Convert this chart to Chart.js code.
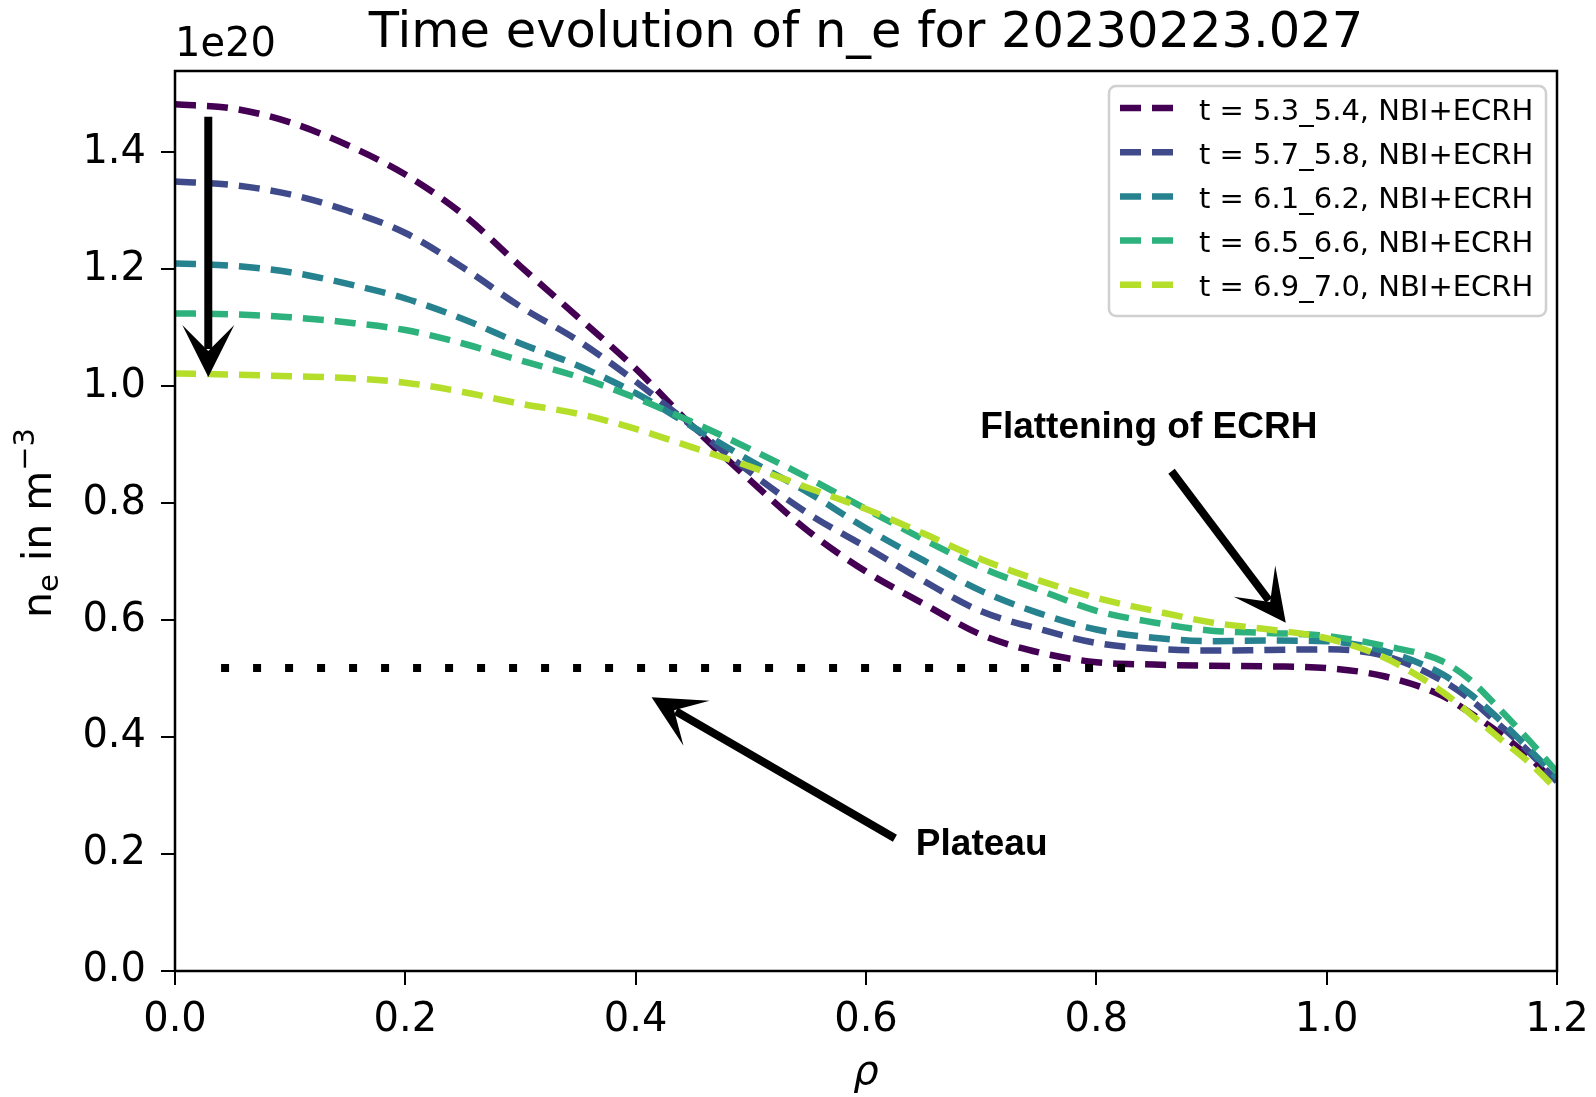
<!DOCTYPE html>
<html>
<head>
<meta charset="utf-8">
<script src="https://cdn.jsdelivr.net/npm/chart.js@4.4.1/dist/chart.umd.min.js"></script>
<style>
  html, body { margin: 0; padding: 0; background: #ffffff; }
  #wrap { width: 1596px; height: 1097px; position: relative; }
  canvas { display: block; }
</style>
</head>
<body>
<div id="wrap"><canvas id="c" width="1596" height="1097" style="width:1596px;height:1097px"></canvas></div>
<script>
// ---------------- data (n_e in units of 1e20 m^-3) ----------------
const rho = [0, 0.05, 0.1, 0.15, 0.2, 0.25, 0.3, 0.35, 0.4, 0.45, 0.5, 0.55, 0.6, 0.65, 0.7, 0.75, 0.8, 0.85, 0.9, 0.95, 1.0, 1.05, 1.1, 1.125, 1.15, 1.175, 1.2];

const ne_t53 = [1.482, 1.475, 1.451, 1.412, 1.362, 1.294, 1.205, 1.118, 1.030, 0.930, 0.838, 0.752, 0.683, 0.628, 0.575, 0.545, 0.528, 0.524, 0.522, 0.521, 0.518, 0.504, 0.471, 0.441, 0.407, 0.367, 0.319];
const ne_t57 = [1.350, 1.344, 1.328, 1.300, 1.262, 1.203, 1.136, 1.078, 1.008, 0.930, 0.852, 0.782, 0.725, 0.667, 0.615, 0.585, 0.561, 0.551, 0.548, 0.549, 0.550, 0.539, 0.497, 0.464, 0.421, 0.376, 0.324];
const ne_t61 = [1.210, 1.206, 1.195, 1.175, 1.150, 1.115, 1.073, 1.035, 0.988, 0.930, 0.872, 0.818, 0.757, 0.702, 0.650, 0.612, 0.584, 0.570, 0.564, 0.565, 0.564, 0.547, 0.508, 0.473, 0.430, 0.381, 0.330];
const ne_t65 = [1.1245, 1.123, 1.118, 1.109, 1.096, 1.073, 1.044, 1.016, 0.980, 0.938, 0.892, 0.843, 0.790, 0.738, 0.690, 0.652, 0.616, 0.596, 0.582, 0.578, 0.573, 0.556, 0.530, 0.497, 0.448, 0.396, 0.340];
const ne_t69 = [1.0216, 1.020, 1.017, 1.014, 1.006, 0.990, 0.970, 0.953, 0.927, 0.895, 0.862, 0.826, 0.790, 0.748, 0.704, 0.668, 0.638, 0.616, 0.596, 0.584, 0.569, 0.536, 0.478, 0.439, 0.398, 0.358, 0.310];

const seriesValues = [ne_t53, ne_t57, ne_t61, ne_t65, ne_t69];
const seriesLabels = ["t = 5.3_5.4, NBI+ECRH", "t = 5.7_5.8, NBI+ECRH", "t = 6.1_6.2, NBI+ECRH", "t = 6.5_6.6, NBI+ECRH", "t = 6.9_7.0, NBI+ECRH"];
const seriesColors = ["#440154", "#3e4a89", "#26828e", "#2db27d", "#b5de2b"];

// plateau reference line
const plateauLevel = 0.518;
const plateauRho = [0.04, 0.833];

// axis settings
const xMin = 0, xMax = 1.2, xStep = 0.2;
const yMin = 0, yMax = 1.539, yStep = 0.2;

// annotations (data coordinates)
const arrows = [
  { from: [0.0289, 1.4606], to: [0.0289, 1.0158] },
  { from: [0.8653, 0.8546], to: [0.9645, 0.5956] },
  { from: [0.6251, 0.2269], to: [0.4138, 0.4682] }
];
const notes = [
  { text: "Flattening of ECRH", at: [0.8456, 0.911], align: "center" },
  { text: "Plateau", at: [0.6433, 0.199], align: "left" }
];

const titleText = "Time evolution of n_e for 20230223.027";
const offsetText = "1e20";

// ---------------- chart ----------------
Chart.defaults.color = '#000';
const yTickFont = { family: 'DejaVu Sans', size: 40 };
const xTickFont = { family: 'DejaVu Sans', size: 40, lineHeight: 1.8 };

const datasets = seriesValues.map((vals, i) => ({
  label: seriesLabels[i],
  data: rho.map((x, j) => ({ x: x, y: vals[j] })),
  borderColor: seriesColors[i],
  backgroundColor: seriesColors[i],
  borderWidth: 6.5,
  borderDash: [21, 11],
  borderCapStyle: 'butt',
  pointRadius: 0,
  fill: false,
  cubicInterpolationMode: 'monotone',
  order: 5 - i
}));
datasets.push({
  label: '_plateau',
  data: plateauRho.map(x => ({ x: x, y: plateauLevel })),
  borderColor: '#000',
  borderWidth: 8,
  borderDash: [8, 24],
  borderCapStyle: 'butt',
  pointRadius: 0,
  fill: false,
  order: 0
});

function drawArrow(ctx, x1, y1, x2, y2) {
  const dx = x2 - x1, dy = y2 - y1;
  const len = Math.hypot(dx, dy);
  const ux = dx / len, uy = dy / len;
  const nx = -uy, ny = ux;
  const L = 52, W = 26, notch = 26, shaft = 8;
  ctx.save();
  ctx.strokeStyle = '#000';
  ctx.fillStyle = '#000';
  ctx.lineWidth = shaft;
  ctx.lineCap = 'butt';
  ctx.setLineDash([]);
  ctx.beginPath();
  ctx.moveTo(x1, y1);
  ctx.lineTo(x2 - ux * (notch + 2), y2 - uy * (notch + 2));
  ctx.stroke();
  ctx.beginPath();
  ctx.moveTo(x2, y2);
  ctx.lineTo(x2 - ux * L + nx * W, y2 - uy * L + ny * W);
  ctx.lineTo(x2 - ux * notch, y2 - uy * notch);
  ctx.lineTo(x2 - ux * L - nx * W, y2 - uy * L - ny * W);
  ctx.closePath();
  ctx.fill();
  ctx.restore();
}

const decor = {
  id: 'decor',
  afterDatasetsDraw(chart) {
    const ctx = chart.ctx;
    const a = chart.chartArea;
    const xs = chart.scales.x, ys = chart.scales.y;

    // frame (all four spines)
    ctx.save();
    ctx.strokeStyle = '#000';
    ctx.lineWidth = 2.5;
    ctx.setLineDash([]);
    ctx.strokeRect(a.left, a.top, a.right - a.left, a.bottom - a.top);
    ctx.restore();

    // arrows
    arrows.forEach(ar => {
      drawArrow(ctx,
        xs.getPixelForValue(ar.from[0]), ys.getPixelForValue(ar.from[1]),
        xs.getPixelForValue(ar.to[0]), ys.getPixelForValue(ar.to[1]));
    });

    // annotation texts
    ctx.save();
    ctx.fillStyle = '#000';
    ctx.font = 'bold 37px "Liberation Sans", Arial, sans-serif';
    ctx.textBaseline = 'alphabetic';
    notes.forEach(n => {
      ctx.textAlign = n.align;
      ctx.fillText(n.text, xs.getPixelForValue(n.at[0]), ys.getPixelForValue(n.at[1]));
    });
    ctx.restore();

    // legend
    const bw = 437, bh = 230;
    const bx = a.right - 11 - bw, by = a.top + 15;
    ctx.save();
    ctx.beginPath();
    if (ctx.roundRect) ctx.roundRect(bx, by, bw, bh, 7); else ctx.rect(bx, by, bw, bh);
    ctx.fillStyle = 'rgba(255,255,255,0.8)';
    ctx.fill();
    ctx.strokeStyle = '#d0d0d0';
    ctx.lineWidth = 2.5;
    ctx.stroke();
    const rowH = 44.2;
    ctx.font = '29px "DejaVu Sans"';
    ctx.textAlign = 'left';
    ctx.textBaseline = 'alphabetic';
    seriesLabels.forEach((lab, i) => {
      const cy = by + 22 + i * rowH;
      ctx.strokeStyle = seriesColors[i];
      ctx.lineWidth = 6.5;
      ctx.lineCap = 'butt';
      ctx.setLineDash([21, 11]);
      ctx.beginPath();
      ctx.moveTo(bx + 11, cy);
      ctx.lineTo(bx + 65, cy);
      ctx.stroke();
      ctx.setLineDash([]);
      ctx.fillStyle = '#000';
      ctx.fillText(lab, bx + 90, cy + 11.5);
    });
    ctx.restore();
  },
  afterDraw(chart) {
    const ctx = chart.ctx;
    const a = chart.chartArea;
    ctx.save();
    ctx.fillStyle = '#000';
    ctx.textBaseline = 'alphabetic';

    // title
    ctx.font = '49.5px "DejaVu Sans"';
    ctx.textAlign = 'center';
    ctx.fillText(titleText, (a.left + a.right) / 2, 47);

    // offset text
    ctx.font = '40px "DejaVu Sans"';
    ctx.textAlign = 'left';
    ctx.fillText(offsetText, a.left, 56);

    // x label
    ctx.font = 'italic 40px "DejaVu Sans"';
    ctx.textAlign = 'center';
    ctx.fillText('\u03C1', (a.left + a.right) / 2, 1084);

    // y label: n_e in m^-3 (rotated)
    const parts = [
      { t: 'n', size: 41, shift: 0 },
      { t: 'e', size: 29, shift: 7 },
      { t: ' in m', size: 41, shift: 0 },
      { t: '\u22123', size: 29, shift: -17 }
    ];
    let total = 0;
    parts.forEach(p => { ctx.font = p.size + 'px "DejaVu Sans"'; p.w = ctx.measureText(p.t).width; total += p.w; });
    ctx.translate(51, (a.top + a.bottom) / 2 + 2);
    ctx.rotate(-Math.PI / 2);
    ctx.textAlign = 'left';
    let cx = -total / 2;
    parts.forEach(p => {
      ctx.font = p.size + 'px "DejaVu Sans"';
      ctx.fillText(p.t, cx, p.shift);
      cx += p.w;
    });
    ctx.restore();
  }
};

new Chart(document.getElementById('c').getContext('2d'), {
  type: 'line',
  data: { datasets: datasets },
  options: {
    responsive: false,
    animation: false,
    devicePixelRatio: 1,
    layout: { padding: { top: 71, right: 39, left: 0, bottom: 0 } },
    plugins: {
      legend: { display: false },
      title: { display: false },
      tooltip: { enabled: false }
    },
    elements: { point: { radius: 0 } },
    scales: {
      x: {
        type: 'linear', min: xMin, max: xMax,
        ticks: { stepSize: xStep, includeBounds: false, autoSkip: false, maxRotation: 0,
                 font: xTickFont, color: '#000', padding: 0,
                 callback: v => Number(v).toFixed(1) },
        grid: { drawOnChartArea: false, drawTicks: true, tickLength: 14, tickWidth: 2, color: '#000', lineWidth: 2 },
        border: { display: false },
        afterFit(s) { s.height = 126; }
      },
      y: {
        type: 'linear', min: yMin, max: yMax,
        ticks: { stepSize: yStep, includeBounds: false, autoSkip: false,
                 font: yTickFont, color: '#000', padding: 15,
                 callback: v => Number(v).toFixed(1) },
        grid: { drawOnChartArea: false, drawTicks: true, tickLength: 14, tickWidth: 2, color: '#000', lineWidth: 2 },
        border: { display: false },
        afterFit(s) { s.width = 175; }
      }
    }
  },
  plugins: [decor]
});
</script>
</body>
</html>
